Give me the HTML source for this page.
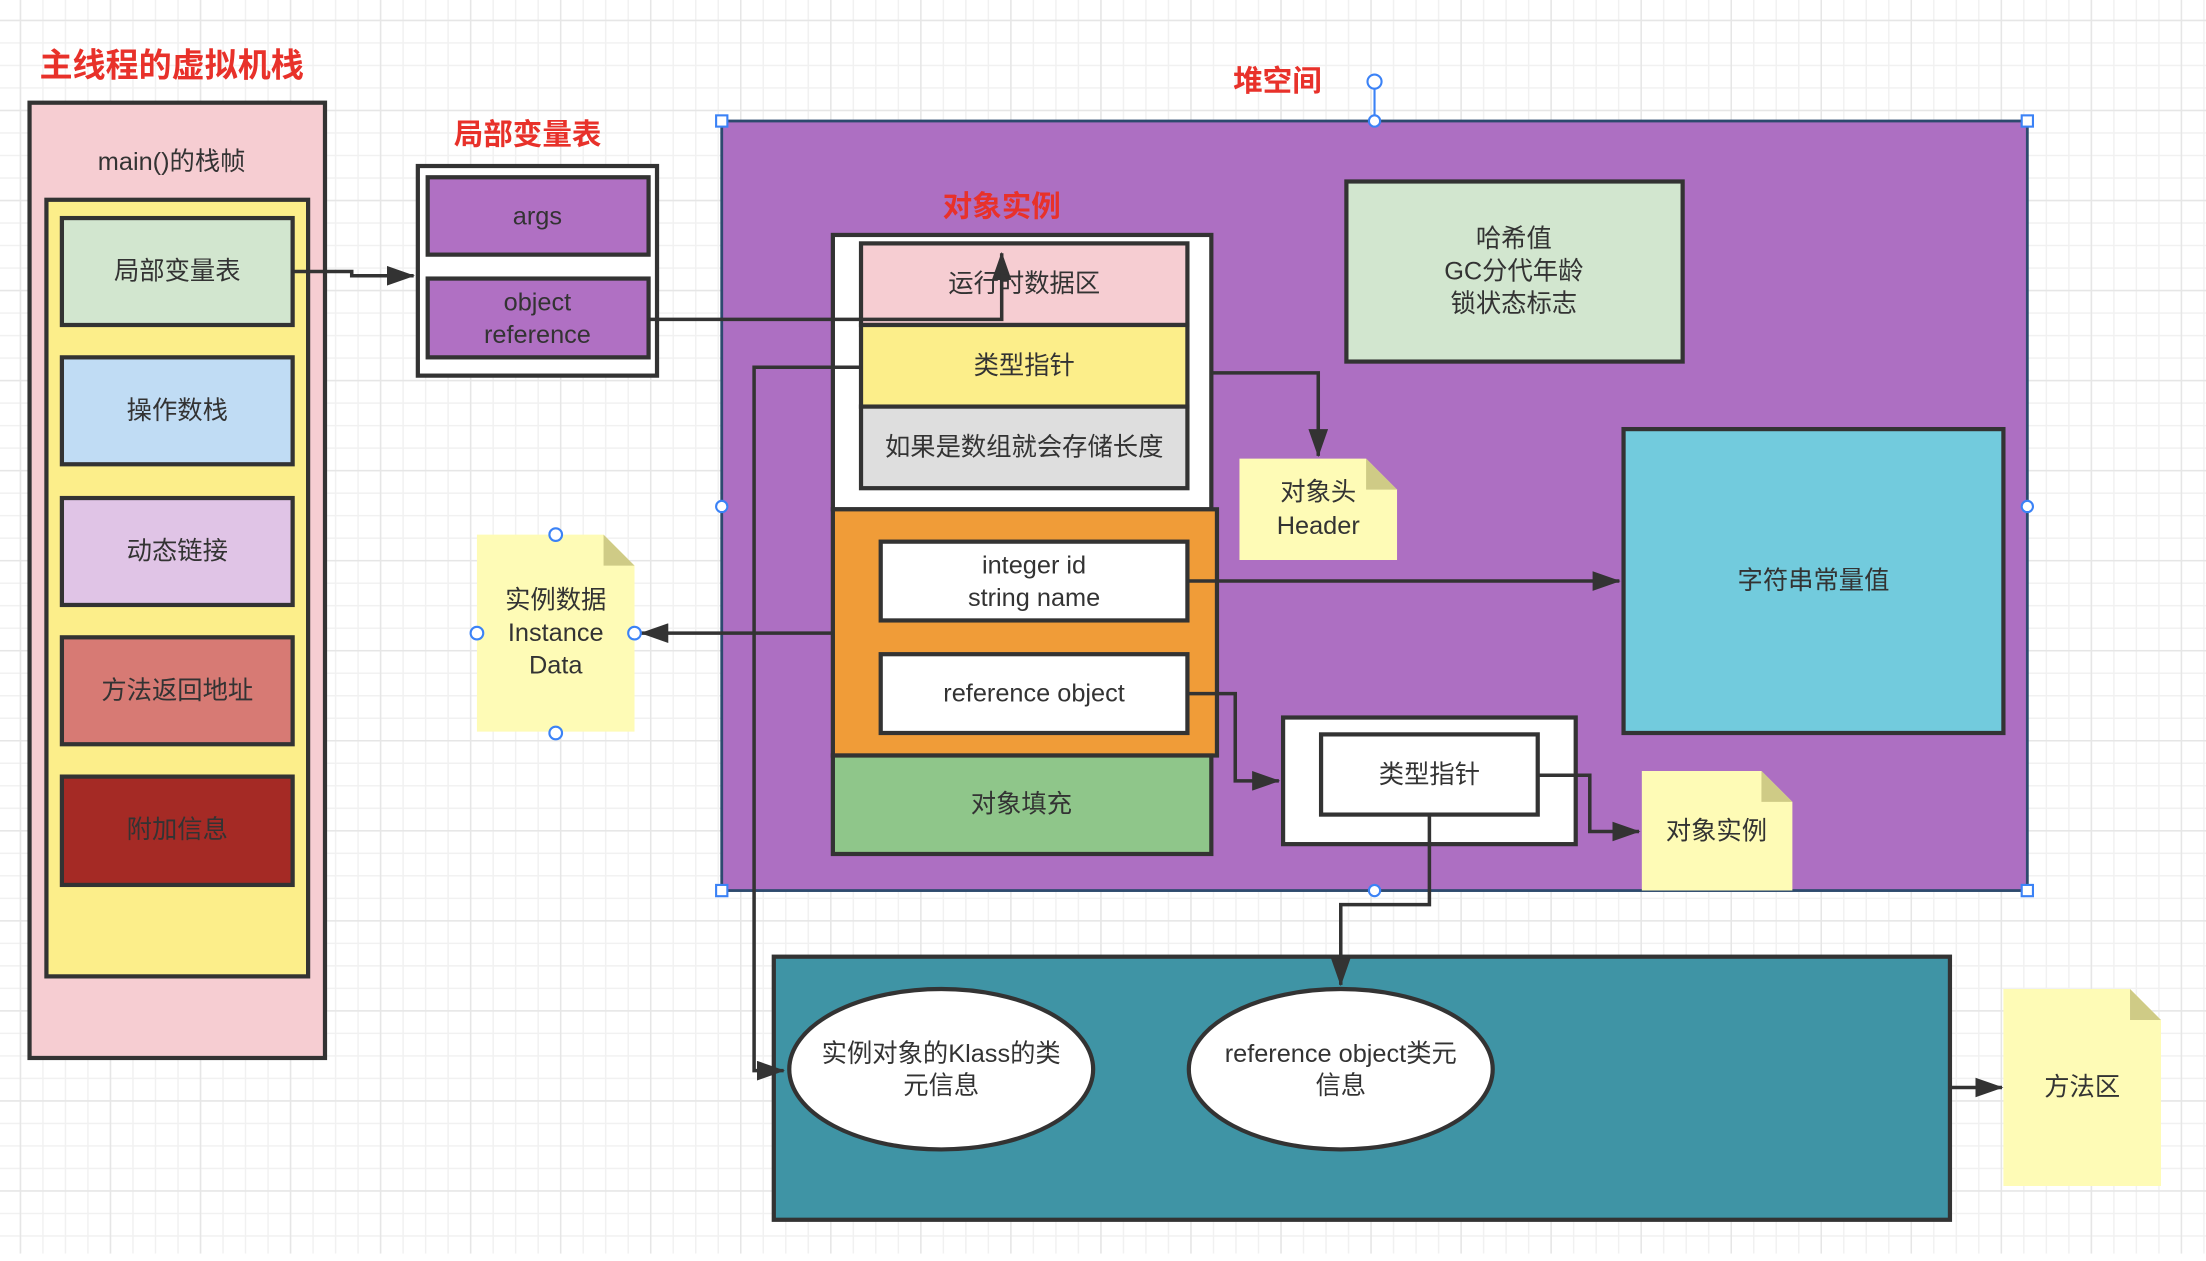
<!DOCTYPE html>
<html><head><meta charset="utf-8"><style>
html,body{margin:0;padding:0;background:#fff;overflow:hidden}
#wrap{width:1568px;height:891px;transform:scale(1.40689);transform-origin:0 0;position:absolute;left:0;top:0;
background-color:#fff;
background-image:linear-gradient(#e6e6e6 1px,transparent 1px),linear-gradient(90deg,#e6e6e6 1px,transparent 1px),linear-gradient(#f1f1f1 1px,transparent 1px),linear-gradient(90deg,#f1f1f1 1px,transparent 1px);
background-size:64px 64px,64px 64px,16px 16px,16px 16px;background-position:14px 14px}
svg text{font-family:"Liberation Sans","Noto Sans CJK SC",sans-serif;fill:#333;font-size:18px;text-anchor:middle;dominant-baseline:central}
svg .t{fill:#e8312a;font-weight:bold;font-size:21px}
</style></head><body><div id="wrap">
<svg width="1568" height="891" viewBox="0 0 1568 891" xmlns="http://www.w3.org/2000/svg">
<defs><marker id="b" markerWidth="20" markerHeight="14" refX="19" refY="7" orient="auto" markerUnits="userSpaceOnUse"><path d="M0,0 L20,7 L0,14 z" fill="#333"/></marker></defs>
<g stroke="#333" stroke-width="3">
<rect x="21" y="73" width="210" height="679" fill="#f6cdd2"/>
<rect x="33" y="142" width="186" height="552" fill="#fcee8a"/>
<rect x="44" y="155" width="164" height="76" fill="#d2e6cf"/>
<rect x="44" y="254" width="164" height="76" fill="#c0dcf4"/>
<rect x="44" y="354" width="164" height="76" fill="#e0c4e6"/>
<rect x="44" y="453" width="164" height="76" fill="#d77a74"/>
<rect x="44" y="552" width="164" height="77" fill="#a52a25"/>
<rect x="297" y="118" width="170" height="149" fill="#fff"/>
<rect x="304" y="126" width="157" height="55" fill="#b070c3"/>
<rect x="304" y="198" width="157" height="56" fill="#b070c3"/>
</g>
<rect x="513" y="86" width="928" height="547" fill="#ad6fc2" stroke="#2d4a6e" stroke-width="2"/>
<g stroke="#333" stroke-width="3">
<rect x="592" y="167" width="269" height="195" fill="#fff"/>
<rect x="612" y="173" width="232" height="58" fill="#f6cdd2"/>
<rect x="612" y="231" width="232" height="58" fill="#fcee8a"/>
<rect x="612" y="289" width="232" height="58" fill="#dedede"/>
<rect x="592" y="362" width="273" height="175" fill="#f09c38"/>
<rect x="626" y="385" width="218" height="56" fill="#fff"/>
<rect x="626" y="465" width="218" height="56" fill="#fff"/>
<rect x="592" y="537" width="269" height="70" fill="#8fc68a"/>
<rect x="957" y="129" width="239" height="128" fill="#d2e6cf"/>
<rect x="1154" y="305" width="270" height="216" fill="#72cbdd"/>
<rect x="912" y="510" width="208" height="90" fill="#fff"/>
<rect x="939" y="522" width="154" height="57" fill="#fff"/>
<rect x="550" y="680" width="836" height="187" fill="#3f94a5"/>
<ellipse cx="669" cy="760" rx="108" ry="57" fill="#fff"/>
<ellipse cx="953" cy="760" rx="108" ry="57" fill="#fff"/>
</g>
<g>
<path d="M881,326 H971 L993,348 V398 H881 Z" fill="#fefbb6"/><path d="M971,326 L993,348 H971 Z" fill="#cfcb86"/>
<path d="M339,380 H429 L451,402 V520 H339 Z" fill="#fefbb6"/><path d="M429,380 L451,402 H429 Z" fill="#cfcb86"/>
<path d="M1167,548 H1252 L1274,570 V633 H1167 Z" fill="#fefbb6"/><path d="M1252,548 L1274,570 H1252 Z" fill="#cfcb86"/>
<path d="M1424,703 H1514 L1536,725 V843 H1424 Z" fill="#fefbb6"/><path d="M1514,703 L1536,725 H1514 Z" fill="#cfcb86"/>
</g>
<g fill="none" stroke="#333" stroke-width="2.5">
<path d="M208,193 H250 V196 H294" marker-end="url(#b)"/>
<path d="M461,227 H712 V180" marker-end="url(#b)"/>
<path d="M612,261 H536 V761 H557" marker-end="url(#b)"/>
<path d="M861,265 H937 V324" marker-end="url(#b)"/>
<path d="M844,413 H1151" marker-end="url(#b)"/>
<path d="M592,450 H456" marker-end="url(#b)"/>
<path d="M844,493 H878 V555 H909" marker-end="url(#b)"/>
<path d="M1093,551 H1130 V591 H1165" marker-end="url(#b)"/>
<path d="M1016,579 V643 H953 V700" marker-end="url(#b)"/>
<path d="M1386,773 H1423" marker-end="url(#b)"/>
</g>
<g fill="#fff" stroke="#3b82f6" stroke-width="1.5">
<line x1="977" y1="63" x2="977" y2="86"/>
<circle cx="977" cy="58" r="5"/><circle cx="977" cy="86" r="4"/><circle cx="977" cy="633" r="4"/>
<circle cx="513" cy="360" r="4"/><circle cx="1441" cy="360" r="4"/>
<rect x="509" y="82" width="8" height="8"/><rect x="1437" y="82" width="8" height="8"/>
<rect x="509" y="629" width="8" height="8"/><rect x="1437" y="629" width="8" height="8"/>
<circle cx="395" cy="380" r="4.5"/><circle cx="395" cy="521" r="4.5"/><circle cx="339" cy="450" r="4.5"/><circle cx="451" cy="450" r="4.5"/>
</g>
<text class="t" x="122" y="47" style="font-size:23.5px">主线程的虚拟机栈</text>
<text class="t" x="375" y="96">局部变量表</text>
<text class="t" x="908" y="58">堆空间</text>
<text class="t" x="712" y="147">对象实例</text>
<text x="122" y="115">main()的栈帧</text>
<text x="126" y="193">局部变量表</text>
<text x="126" y="292">操作数栈</text>
<text x="126" y="392">动态链接</text>
<text x="126" y="491">方法返回地址</text>
<text x="126" y="590">附加信息</text>
<text x="382" y="154">args</text>
<text x="382" y="215">object</text><text x="382" y="238">reference</text>
<text x="728" y="202">运行时数据区</text>
<text x="728" y="260">类型指针</text>
<text x="728" y="318">如果是数组就会存储长度</text>
<text x="735" y="402">integer id</text><text x="735" y="425">string name</text>
<text x="735" y="493">reference object</text>
<text x="726" y="572">对象填充</text>
<text x="1076" y="170">哈希值</text><text x="1076" y="193">GC分代年龄</text><text x="1076" y="216">锁状态标志</text>
<text x="1289" y="413">字符串常量值</text>
<text x="937" y="350">对象头</text><text x="937" y="374">Header</text>
<text x="395" y="427">实例数据</text><text x="395" y="450">Instance</text><text x="395" y="473">Data</text>
<text x="1016" y="551">类型指针</text>
<text x="1220" y="591">对象实例</text>
<text x="669" y="749">实例对象的Klass的类</text><text x="669" y="772">元信息</text>
<text x="953" y="749">reference object类元</text><text x="953" y="772">信息</text>
<text x="1480" y="773">方法区</text>
</svg></div></body></html>
